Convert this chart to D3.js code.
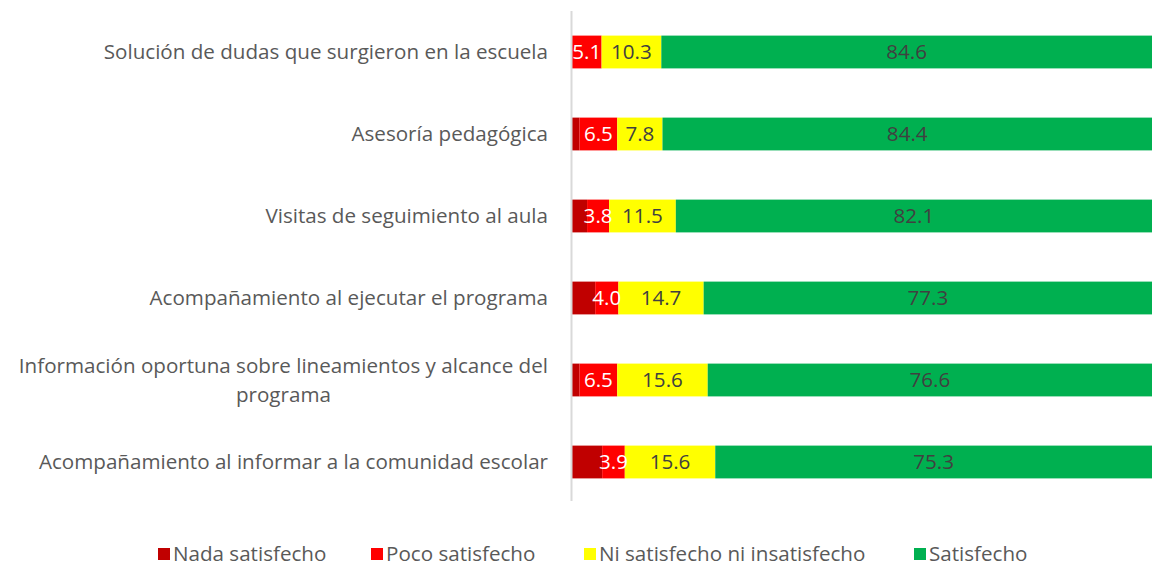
<!DOCTYPE html>
<html>
<head>
<meta charset="utf-8">
<script src="https://cdn.jsdelivr.net/npm/d3@7"></script>
<style>
  html, body { margin: 0; padding: 0; background: #ffffff; }
  svg { display: block; }
</style>
</head>
<body>
<div id="chart"></div>
<script>
// Satisfaction with program support, percentage per response level
const categories = [
  "Solución de dudas que surgieron en la escuela",
  "Asesoría pedagógica",
  "Visitas de seguimiento al aula",
  "Acompañamiento al ejecutar el programa",
  "Información oportuna sobre lineamientos y alcance del programa",
  "Acompañamiento al informar a la comunidad escolar"
];
const seriesNames = ["Nada satisfecho", "Poco satisfecho", "Ni satisfecho ni insatisfecho", "Satisfecho"];
const nada       = [0.0, 1.3, 2.6, 4.0, 1.3, 5.2];
const poco       = [5.1, 6.5, 3.8, 4.0, 6.5, 3.9];
const ni         = [10.3, 7.8, 11.5, 14.7, 15.6, 15.6];
const satisfecho = [84.6, 84.4, 82.1, 77.3, 76.6, 75.3];
const seriesColors = ["#C00000", "#FF0000", "#FFFF00", "#00B050"];
const labelColors  = [null, "#FFFFFF", "#404040", "#404040"];

const width = 1153, height = 568;
const margin = { top: 11, right: 1, bottom: 65, left: 572 };
const font = "'Open Sans', sans-serif";
const fontSize = 20.6;

const rows = categories.map((c, i) => ({
  cat: c,
  "Nada satisfecho": nada[i],
  "Poco satisfecho": poco[i],
  "Ni satisfecho ni insatisfecho": ni[i],
  "Satisfecho": satisfecho[i]
}));

const stack = d3.stack().keys(seriesNames)(rows);

const svg = d3.select("#chart").append("svg")
  .attr("width", width).attr("height", height);

const x = d3.scaleLinear().domain([0, 100]).range([margin.left, width - margin.right]);
const y = d3.scaleBand().domain(categories)
  .range([margin.top, height - margin.bottom]).paddingInner(0.6).paddingOuter(0.3);

// bars
const layers = svg.append("g").selectAll("g").data(stack).join("g")
  .attr("fill", (d, i) => seriesColors[i]);

layers.selectAll("rect").data(d => d).join("rect")
  .attr("x", d => x(d[0]))
  .attr("y", d => y(d.data.cat))
  .attr("width", d => x(d[1]) - x(d[0]))
  .attr("height", y.bandwidth());

// value labels (not shown for the first series)
stack.forEach((layer, i) => {
  if (!labelColors[i]) return;
  svg.append("g").selectAll("text").data(layer).join("text")
    .attr("x", d => (x(d[0]) + x(d[1])) / 2)
    .attr("y", d => y(d.data.cat) + y.bandwidth() / 2)
    .attr("dy", "0.36em")
    .attr("text-anchor", "middle")
    .attr("font-family", font)
    .attr("font-size", fontSize)
    .attr("fill", labelColors[i])
    .text(d => (d[1] - d[0]).toFixed(1));
});

// vertical category axis line
svg.append("line")
  .attr("x1", margin.left - 0.5).attr("x2", margin.left - 0.5)
  .attr("y1", margin.top).attr("y2", height - margin.bottom - 2)
  .attr("stroke", "#d9d9d9").attr("stroke-width", 2);

// category labels, wrapped to fit the left area
const maxLabelWidth = 545;
const labelG = svg.append("g");
categories.forEach(c => {
  const t = labelG.append("text")
    .attr("font-family", font).attr("font-size", fontSize).attr("fill", "#595959")
    .attr("text-anchor", "end");
  const words = c.split(" ");
  let lines = [], cur = [];
  const probe = labelG.append("text").attr("font-family", font).attr("font-size", fontSize);
  words.forEach(w => {
    cur.push(w);
    probe.text(cur.join(" "));
    if (probe.node().getComputedTextLength() > maxLabelWidth && cur.length > 1) {
      cur.pop();
      lines.push(cur.join(" "));
      cur = [w];
    }
  });
  lines.push(cur.join(" "));
  const blockW = d3.max(lines, l => { probe.text(l); return probe.node().getComputedTextLength(); });
  probe.remove();
  const cy = y(c) + y.bandwidth() / 2;
  const lh = 29;
  const right = margin.left - 24;
  if (lines.length === 1) {
    t.attr("x", right).attr("y", cy).attr("dy", "0.35em").text(lines[0]);
  } else {
    t.attr("text-anchor", "middle");
    lines.forEach((l, k) => {
      t.append("tspan")
        .attr("x", right - blockW / 2)
        .attr("y", cy + (k - (lines.length - 1) / 2) * lh)
        .attr("dy", "0.35em")
        .text(l);
    });
  }
});

// legend
const legendX = [158, 371, 584, 914];
const legend = svg.append("g");
seriesNames.forEach((s, i) => {
  const g = legend.append("g").attr("transform", `translate(${legendX[i]},554)`);
  g.append("rect").attr("x", 0).attr("y", -6).attr("width", 12).attr("height", 12)
    .attr("fill", seriesColors[i]);
  g.append("text").attr("x", 15).attr("y", 0).attr("dy", "0.35em")
    .attr("font-family", font).attr("font-size", fontSize).attr("fill", "#595959")
    .text(s);
});
</script>
</body>
</html>
